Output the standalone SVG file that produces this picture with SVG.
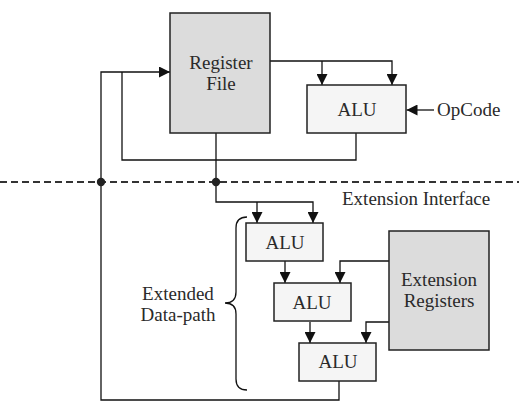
<svg xmlns="http://www.w3.org/2000/svg" width="519" height="402" viewBox="0 0 519 402">
<style>
text{font-size:19px;fill:#2a2a2a;}
.c{text-anchor:middle;}
.box{stroke:#222;stroke-width:1.5;}
.reg{fill:#dcdcdc;}
.alu{fill:#f5f5f5;}
.ln{fill:none;stroke:#111;stroke-width:1.3;}
.arr{marker-end:url(#ah);}
</style>
<defs>
<marker id="ah" markerUnits="userSpaceOnUse" markerWidth="11" markerHeight="11" viewBox="0 0 10 10" refX="10" refY="5" orient="auto">
<path d="M0,0 L10,5 L0,10 z" fill="#111"/>
</marker>
</defs>
<line x1="0" y1="182" x2="519" y2="182" stroke="#333" stroke-width="2" stroke-dasharray="7 4"/>
<g id="connectors">
<path class="ln arr" d="M270,61 H392 V85"/>
<path class="ln arr" d="M322,61 V85"/>
<path class="ln arr" d="M434,110 H406.5"/>
<path class="ln" d="M356,133 V160 H122 V72"/>
<path class="ln arr" d="M339,381 V400 H101 V72 H170"/>
<path class="ln arr" d="M216,133 V202 H313 V223"/>
<path class="ln arr" d="M257,202 V223"/>
<path class="ln arr" d="M285,261 V283"/>
<path class="ln arr" d="M310,322 V343"/>
<path class="ln arr" d="M389,261 H340 V283"/>
<path class="ln arr" d="M389,322 H366 V343"/>
<circle cx="101" cy="182" r="4.2" fill="#222"/>
<circle cx="216" cy="182" r="4.2" fill="#222"/>
</g>
<g font-family="'Liberation Serif', 'Times New Roman', serif">
<g id="register-file">
<rect class="box reg" x="170" y="13" width="100" height="120"/>
<text class="c" x="221" y="69">Register</text>
<text class="c" x="221" y="90">File</text>
</g>
<g id="alu-main">
<rect class="box alu" x="307" y="85" width="99" height="48"/>
<text class="c" x="357" y="116">ALU</text>
</g>
<g id="opcode">
<text x="437" y="116">OpCode</text>
</g>
<g id="extension-interface">
<text x="342" y="205">Extension Interface</text>
</g>
<g id="alu1">
<rect class="box alu" x="246" y="223" width="77" height="38"/>
<text class="c" x="285" y="249">ALU</text>
</g>
<g id="alu2">
<rect class="box alu" x="274" y="283" width="77" height="38"/>
<text class="c" x="312" y="309">ALU</text>
</g>
<g id="alu3">
<rect class="box alu" x="299" y="343" width="77" height="38"/>
<text class="c" x="338" y="368">ALU</text>
</g>
<g id="extension-registers">
<rect class="box reg" x="389" y="231" width="100" height="119"/>
<text class="c" x="439" y="286">Extension</text>
<text class="c" x="439" y="307">Registers</text>
</g>
<g id="extended-datapath">
<path class="ln" d="M247,217 C239,217 236,221 236,228 V292 C236,299 233,303 225,303 C233,303 236,307 236,314 V379 C236,386 239,390 247,390"/>
<text class="c" x="178" y="300">Extended</text>
<text class="c" x="178" y="321">Data-path</text>
</g>
</g>
</svg>
